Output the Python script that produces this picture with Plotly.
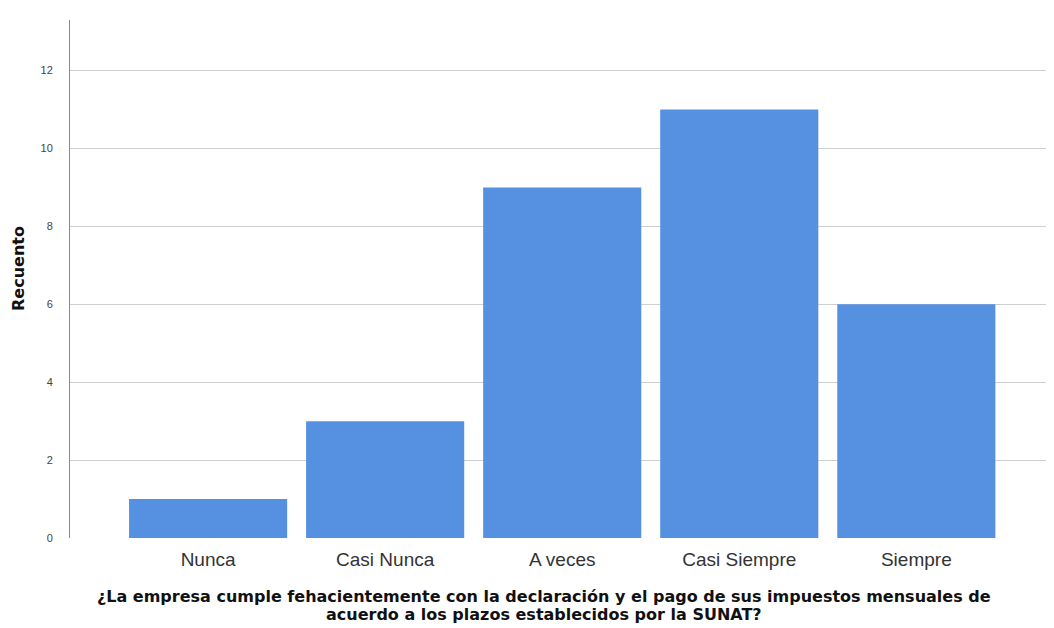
import plotly.graph_objects as go

categories = ["Nunca", "Casi Nunca", "A veces", "Casi Siempre", "Siempre"]
counts = [1, 3, 9, 11, 6]
y_ticks = [0, 2, 4, 6, 8, 10, 12]

title_line1 = "¿La empresa cumple fehacientemente con la declaración y el pago de sus impuestos mensuales de"
title_line2 = "acuerdo a los plazos establecidos por la SUNAT?"

fig = go.Figure(go.Bar(x=categories, y=counts, marker=dict(color="#5591E0", line=dict(width=0))))

# page body has an 8px default margin, so the figure is shrunk by 8px
fig.update_layout(
    width=1046, height=620,
    margin=dict(l=62, r=4, t=12, b=90),
    paper_bgcolor="white", plot_bgcolor="white",
    bargap=0.107,
    showlegend=False,
    font=dict(family="Liberation Sans, Arial", color="#222"),
)
fig.update_xaxes(
    range=[-0.78, 4.755], showgrid=False, showline=False, ticks="", automargin=False,
    tickfont=dict(size=19, color="#333"), ticklabelstandoff=8,
)
fig.update_yaxes(
    range=[0, 13.3], tickvals=y_ticks, showgrid=True, gridcolor="#cfcfcf", gridwidth=1,
    showline=True, linecolor="#8a8a8a", linewidth=1, ticks="", zeroline=False, automargin=False,
    tickfont=dict(size=11, color="#444"), ticklabelstandoff=14,
)
fig.add_annotation(text="<b>Recuento</b>", textangle=-90, xref="paper", yref="paper",
                   x=(18 - 70) / 980, y=(538 - 269) / 518, xanchor="center", yanchor="middle",
                   showarrow=False, font=dict(size=16, color="#111", family="DejaVu Sans"))
for line, wy in ((title_line1, 597), (title_line2, 614)):
    fig.add_annotation(
        text="<b>" + line + "</b>",
        xref="paper", yref="paper", x=(544 - 70) / 980, y=(538 - wy) / 518,
        xanchor="center", yanchor="middle",
        showarrow=False, font=dict(size=16, color="#111", family="DejaVu Sans"),
    )
fig.write_html("out.html")
